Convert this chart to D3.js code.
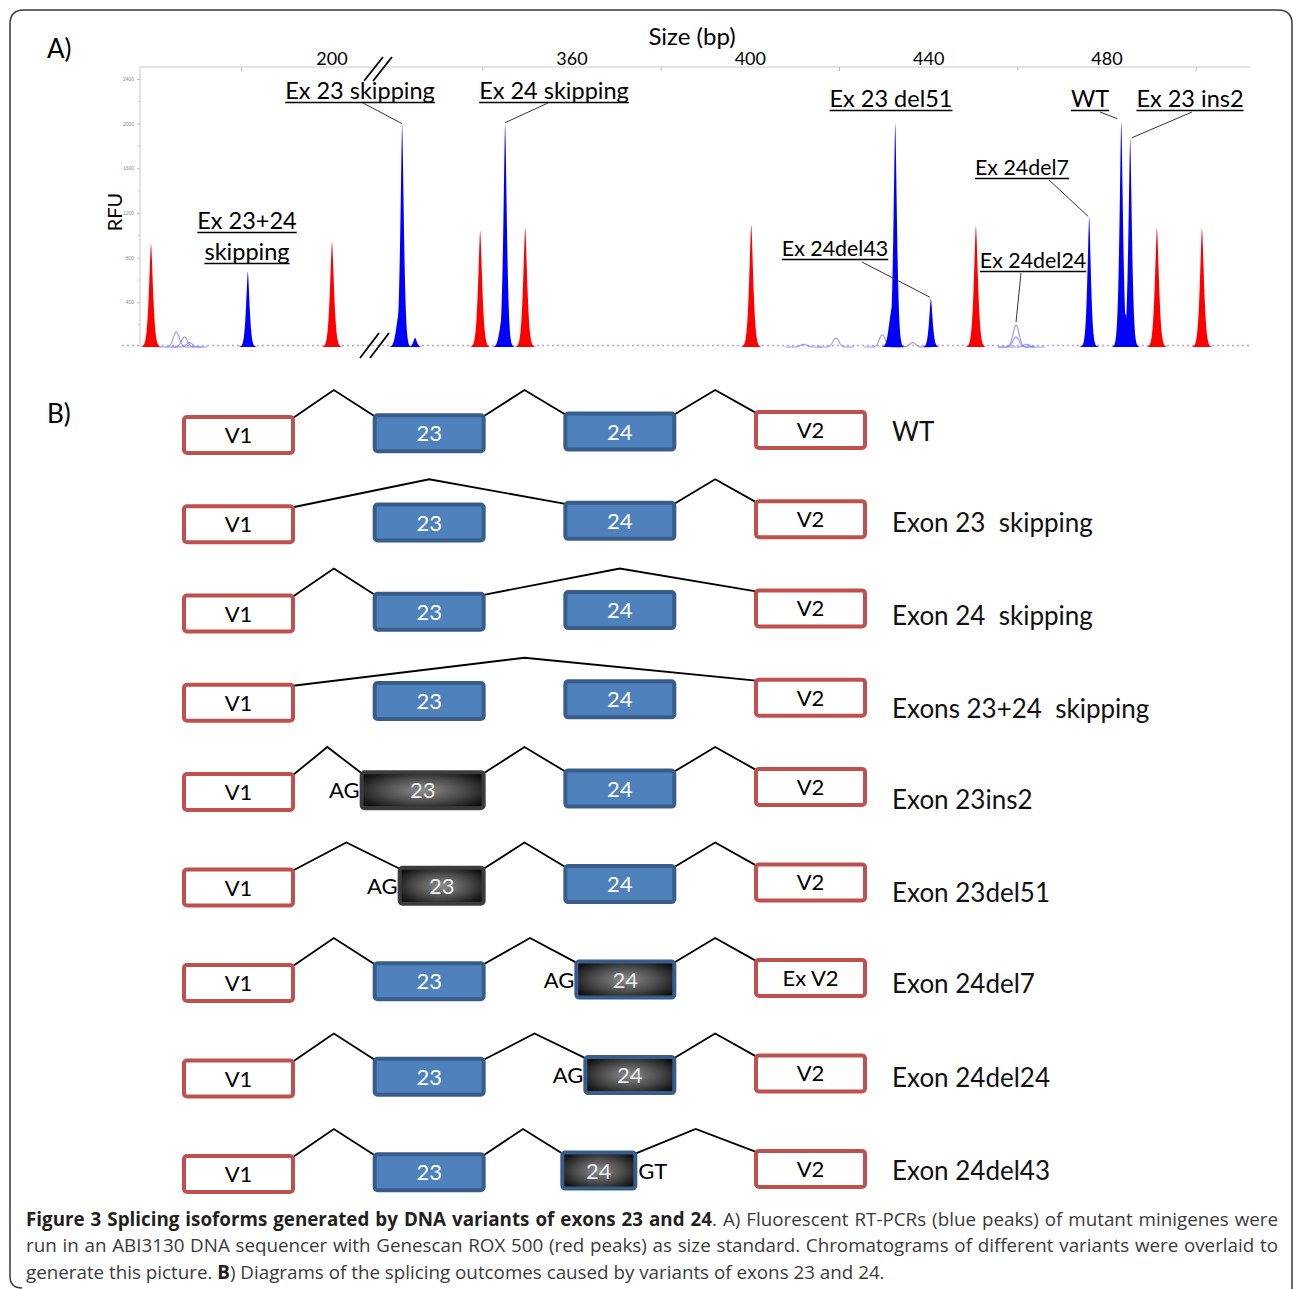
<!DOCTYPE html>
<html><head><meta charset="utf-8">
<script src="https://cdn.jsdelivr.net/npm/d3@7"></script>
<style>body{margin:0;background:#fff}</style>
</head><body>
<svg id="c" width="1293" height="1289" xmlns="http://www.w3.org/2000/svg"></svg>
<script>
// ---------------- DATA ----------------
const sizeTickLabels = [200, 360, 400, 440, 480];
const sizeMinorTicks = [180, 340, 380, 420, 460, 500];
const rfuTickLabels = [400, 800, 1200, 1600, 2000, 2400];
const rfuMinorTicks = [200, 600, 1000, 1400, 1800, 2200];

// ROX 500 size standard (red)
const redPeakSize = [160, 200, 339.4, 349.5, 400.2, 450.6, 491.2, 501.3];
const redPeakRFU  = [930, 946, 1045, 1071, 1098, 1090, 1071, 1071];

// RT-PCR products (blue)
const bluePeakSize = [181.4, 321.9, 324.8, 345.0, 432.5, 440.5, 476.0, 483.2, 485.2];
const bluePeakRFU  = [679, 2000, 85, 2009, 2009, 437, 1170, 2027, 1875];
const blueShoulderSize = [181.4, 321.4, 344.6, 431.9, 476.0, 484.0];
const blueShoulderRFU  = [45, 330, 300, 360, 130, 300];

// faint overlaid traces (light blue outlines)
const faintPeakSize = [165.6, 167.4, 168.5, 419.2, 429.6, 436.4, 459.6, 459.6, 462.0, 412.0];
const faintPeakRFU  = [135, 90, 40, 80, 110, 40, 196, 90, 25, 25];

const peakLabels      = ["Ex 23+24|skipping", "Ex 23 skipping", "Ex 24 skipping", "Ex 23 del51", "WT", "Ex 23 ins2", "Ex 24del7", "Ex 24del43", "Ex 24del24"];
const peakLabelSize   = [181.4, 321.9, 345.0, 432.5, 483.2, 485.2, 476.0, 440.5, 459.6];
const peakLabelRFU    = [679, 2000, 2009, 2009, 2027, 1875, 1170, 437, 196];

const exonNames    = ["V1", "23", "24", "V2"];
const isoformNames = ["WT", "Exon 23  skipping", "Exon 24  skipping", "Exons 23+24  skipping", "Exon 23ins2", "Exon 23del51", "Exon 24del7", "Exon 24del24", "Exon 24del43"];
const isoformExons = [[0,1,2,3],[0,2,3],[0,1,3],[0,3],[0,1,2,3],[0,1,2,3],[0,1,2,3],[0,1,2,3],[0,1,2,3]];
const alteredExon  = [-1,-1,-1,-1,1,1,2,2,2];
const alteredSite  = ["","","","","AG","AG","AG","AG","GT"];
const v2Names      = ["V2","V2","V2","V2","V2","V2","Ex V2","V2","V2"];

const captionBold1 = "Figure 3 Splicing isoforms generated by DNA variants of exons 23 and 24";
const captionRest1 = ". A) Fluorescent RT-PCRs (blue peaks) of mutant minigenes were";
const captionLine2 = "run in an ABI3130 DNA sequencer with Genescan ROX 500 (red peaks) as size standard. Chromatograms of different variants were overlaid to";
const captionLine3a = "generate this picture. ";
const captionLine3b = "B";
const captionLine3c = ") Diagrams of the splicing outcomes caused by variants of exons 23 and 24.";

// ---------------- RENDER ----------------
const svg = d3.select("#c");
const FONT = "Lato, 'Open Sans', sans-serif";

const defs = svg.append("defs");
const rg = defs.append("radialGradient").attr("id","dark").attr("cx","50%").attr("cy","50%").attr("r","62%");
rg.append("stop").attr("offset","0%").attr("stop-color","#8c8c8c");
rg.append("stop").attr("offset","55%").attr("stop-color","#4a4a4a");
rg.append("stop").attr("offset","100%").attr("stop-color","#0c0c0c");

// frame
svg.append("path")
  .attr("d","M 22 1288 Q 10 1288 10 1276 L 10 24 Q 10 10 24 10 L 1278 10 Q 1292 10 1292 24 L 1292 1289")
  .attr("fill","none").attr("stroke","#3a3a3a").attr("stroke-width",1.5);

svg.append("text").attr("x",47).attr("y",58).attr("font-family",FONT).attr("font-size",26).text("A)");
svg.append("text").attr("x",47).attr("y",423).attr("font-family",FONT).attr("font-size",26).text("B)");

// scales (broken x axis)
const xLeft  = d3.scaleLinear().domain([160, 200]).range([151, 332]);
const xRight = d3.scaleLinear().domain([360, 480]).range([572, 1107]);
const x = bp => bp < 260 ? xLeft(bp) : xRight(bp);
const y = d3.scaleLinear().domain([0, 2400]).range([347, 79]);

const gA = svg.append("g");
// top axis line + ticks
gA.append("line").attr("x1",140).attr("x2",1250).attr("y1",67).attr("y2",67).attr("stroke","#c8c8c8");
gA.selectAll(".mt").data(sizeMinorTicks).join("line")
  .attr("x1",d=>x(d)).attr("x2",d=>x(d)).attr("y1",67).attr("y2",71).attr("stroke","#bbb");
gA.selectAll(".tl").data(sizeTickLabels).join("text")
  .attr("x",d=>x(d)).attr("y",64.5).attr("text-anchor","middle")
  .attr("font-family",FONT).attr("font-size",18).text(d=>d);
gA.append("text").attr("x",692).attr("y",45).attr("text-anchor","middle")
  .attr("font-family",FONT).attr("font-size",24).text("Size (bp)");

// y axis
const yAxis = d3.axisLeft(y).tickValues(rfuTickLabels).tickSize(3).tickFormat(d3.format("d"));
const gy = gA.append("g").attr("transform","translate(140,0)").call(yAxis);
gy.select(".domain").remove();
gy.selectAll("line").attr("stroke","#bbb");
gy.selectAll("text").attr("font-size",5).attr("fill","#888").attr("font-family","Arial, sans-serif");
gA.append("line").attr("x1",140).attr("x2",140).attr("y1",67).attr("y2",347).attr("stroke","#c8c8c8");
gA.selectAll(".ym").data(rfuMinorTicks).join("line")
  .attr("x1",138).attr("x2",140).attr("y1",d=>y(d)).attr("y2",d=>y(d)).attr("stroke","#ccc");
gA.append("text").attr("transform","translate(122,212) rotate(-90)").attr("text-anchor","middle")
  .attr("font-family",FONT).attr("font-size",20).text("RFU");

// baseline noise
gA.append("line").attr("x1",122).attr("x2",1250).attr("y1",345.5).attr("y2",345.5)
  .attr("stroke","#a8a8e6").attr("stroke-width",1.4).attr("stroke-dasharray","2,3");

function peakPts(bp, h, s, gauss) {
  const cx = x(bp);
  const n = Math.ceil(6*s/0.25);
  return d3.range(-n, n+1).map(k => {
    const dx = k*0.25;
    return [cx + dx, gauss ? h*Math.exp(-dx*dx/(2*s*s)) : h*Math.exp(-Math.pow(Math.abs(dx)/s, 1.5))];
  });
}
const area = d3.area().x(d=>d[0]).y0(y(0)).y1(d=>y(d[1]));
const line = d3.line().x(d=>d[0]).y(d=>y(d[1]));

// faint outlines
gA.selectAll(".fp").data(faintPeakSize).join("path")
  .attr("d",(d,i)=>line(peakPts(d, faintPeakRFU[i], 3, true)))
  .attr("fill","none").attr("stroke","#7b7bf5").attr("stroke-width",1.1).attr("opacity",0.8);

// red peaks
gA.selectAll(".rp").data(redPeakSize).join("path")
  .attr("d",(d,i)=>area(peakPts(d, redPeakRFU[i], 2.9, false)))
  .attr("fill","#ff0000");
// blue shoulders + peaks
gA.selectAll(".bs").data(blueShoulderSize).join("path")
  .attr("d",(d,i)=>area(peakPts(d, blueShoulderRFU[i], 3.2, true)))
  .attr("fill","#0000ff");
gA.selectAll(".bp").data(bluePeakSize).join("path")
  .attr("d",(d,i)=>area(peakPts(d, bluePeakRFU[i], 2.5, false)))
  .attr("fill","#0000ff");

// break marks
[[364,81,383,57],[373,81,392,57],[360,358,379,333],[370,358,389,333]].forEach(p=>{
  gA.append("line").attr("x1",p[0]).attr("y1",p[1]).attr("x2",p[2]).attr("y2",p[3])
    .attr("stroke","#000").attr("stroke-width",1.8);
});

// peak labels (layout: center x, baseline, font size, leader start, end offset)
const labelLayout = [
  {cx:247, by:229, fs:23.5, lead:null, gap:31},
  {cx:360, by:99,  fs:23.5, lead:[363,103], end:[0,0]},
  {cx:554, by:99,  fs:23.5, lead:[548,103], end:[0,0]},
  {cx:891, by:107, fs:23.5, lead:null},
  {cx:1090,by:107, fs:23.5, lead:[1100,112], end:[-4,-2]},
  {cx:1190,by:107, fs:23.5, lead:[1192,112], end:[2,0]},
  {cx:1022,by:175, fs:21.4, lead:[1049,180], end:[-1,0]},
  {cx:835, by:256, fs:21.4, lead:[862,262], end:[-1,-1]},
  {cx:1033,by:268, fs:21.4, lead:[1021,273], end:[0,-3]}
];
peakLabels.forEach((lab,i)=>{
  const L = labelLayout[i];
  lab.split("|").forEach((t,k)=>{
    const by = L.by + k*(L.gap||0);
    const tx = gA.append("text").attr("x",L.cx).attr("y",by).attr("text-anchor","middle")
      .attr("font-family",FONT).attr("font-size",L.fs).text(t);
    const w = tx.node().getComputedTextLength();
    gA.append("line").attr("x1",L.cx-w/2).attr("x2",L.cx+w/2).attr("y1",by+3.5).attr("y2",by+3.5)
      .attr("stroke","#000").attr("stroke-width",1.6);
  });
  if (L.lead) {
    gA.append("line").attr("x1",L.lead[0]).attr("y1",L.lead[1])
      .attr("x2",x(peakLabelSize[i])+L.end[0]).attr("y2",y(peakLabelRFU[i])+L.end[1])
      .attr("stroke","#333").attr("stroke-width",1);
  }
});

// ---------------- PANEL B ----------------
const rowY = d3.scaleLinear().domain([0,4,8]).range([434,791,1173]);
const exX = d3.scalePoint().domain([0,1,2,3]).range([238.5, 810.5]);
const BW = 109, BH = 36;
const boxTop = i => -17 - i*1.7;
// altered exon box trims (px) [left, right]
const altTrim = {4:[-13,0],5:[25,0],6:[11,0],7:[20,0],8:[-3,-39]};
const labelDy = [-2,0,3,7,9,6,2,0,-2];

const gB = svg.append("g");
isoformNames.forEach((name, r)=>{
  const c = rowY(r);
  const boxes = exonNames.map((e,i)=>{
    let x0 = exX(i) - BW/2, x1 = exX(i) + BW/2;
    const t = c + boxTop(i);
    if (alteredExon[r] === i) { x0 += altTrim[r][0]; x1 += altTrim[r][1]; }
    return {i, x0, x1, t, b: t + BH};
  });
  // introns
  const path = isoformExons[r];
  for (let k=0; k<path.length-1; k++) {
    const a = boxes[path[k]], b = boxes[path[k+1]];
    const pts = [[a.x1, a.t+1],[(a.x1+b.x0)/2, c-44],[b.x0, b.t+1]];
    gB.append("path").attr("d", d3.line()(pts)).attr("fill","none")
      .attr("stroke","#000").attr("stroke-width",1.8);
  }
  boxes.forEach(bx=>{
    const isV = bx.i===0 || bx.i===3;
    const alt = alteredExon[r] === bx.i;
    gB.append("rect").attr("x",bx.x0).attr("y",bx.t).attr("width",bx.x1-bx.x0).attr("height",BH)
      .attr("rx",3)
      .attr("fill", isV ? "#fff" : (alt ? "url(#dark)" : "#4f81bd"))
      .attr("stroke", isV ? "#c0504d" : (alt && bx.i===1 ? "#3c3c3c" : "#385d8a"))
      .attr("stroke-width",4);
    const label = bx.i===3 ? v2Names[r] : exonNames[bx.i];
    gB.append("text").attr("x",(bx.x0+bx.x1)/2).attr("y",bx.t+BH/2+8)
      .attr("text-anchor","middle").attr("font-family",FONT).attr("font-size",22)
      .attr("fill", isV ? "#000" : (alt ? "#eeeeee" : "#fff")).text(label);
    if (alt) {
      const site = alteredSite[r];
      const isGT = site === "GT";
      gB.append("text").attr("x", isGT ? bx.x1+3 : bx.x0-2).attr("y",bx.t+BH/2+8)
        .attr("text-anchor", isGT ? "start" : "end").attr("font-family",FONT).attr("font-size",22)
        .attr("fill","#000").text(site);
    }
  });
  gB.append("text").attr("x",892).attr("y",c+labelDy[r]+9).attr("font-family",FONT)
    .attr("font-size",26).attr("fill","#111").attr("xml:space","preserve").style("white-space","pre").text(name);
});

// ---------------- CAPTION ----------------
const CF = "'Liberation Sans Narrow', 'Open Sans', sans-serif";
const cap = svg.append("g").attr("font-family",CF).attr("fill","#3a3a3a").attr("font-size",19);
const l1 = cap.append("text").attr("x",26).attr("y",1226);
l1.append("tspan").attr("font-weight","bold").attr("fill","#231f20").text(captionBold1);
l1.append("tspan").text(captionRest1);
const l2 = cap.append("text").attr("x",26).attr("y",1252).text(captionLine2);
const l3 = cap.append("text").attr("x",26).attr("y",1279);
l3.append("tspan").text(captionLine3a);
l3.append("tspan").attr("font-weight","bold").attr("fill","#231f20").text(captionLine3b);
l3.append("tspan").text(captionLine3c);
const w3 = l3.node().getComputedTextLength();
const fs = 19 * 859 / w3;
cap.attr("font-size", fs);
function justify(sel, full, W) {
  const w = sel.node().getComputedTextLength();
  const n = (full.match(/ /g) || []).length;
  sel.attr("word-spacing", (W - w) / n);
}
justify(l1, captionBold1 + captionRest1, 1252);
justify(l2, captionLine2, 1252);
</script>
</body></html>
